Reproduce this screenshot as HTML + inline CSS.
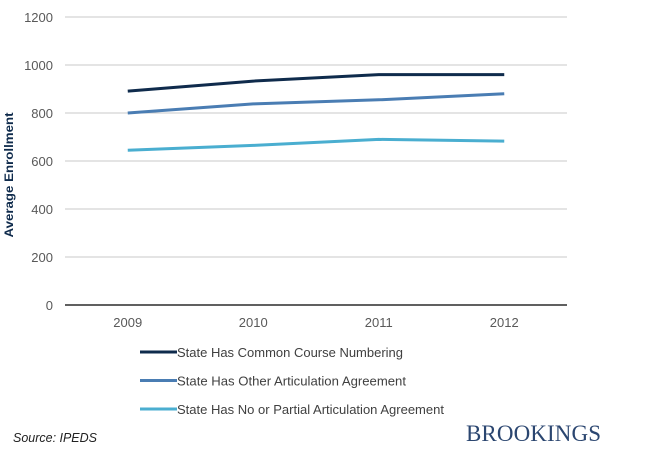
<!DOCTYPE html>
<html><head><meta charset="utf-8"><style>
body{margin:0;background:#fff;width:669px;height:448px;overflow:hidden;font-family:"Liberation Sans",Arial,sans-serif}
</style></head><body>
<svg id="chart" width="669" height="448" xmlns="http://www.w3.org/2000/svg" font-family="Liberation Sans, Arial, sans-serif">
<g id="grid"></g>
<g id="yt"></g>
<g id="xt"></g>
<g id="series"></g>
<text transform="translate(13,175) rotate(-90)" text-anchor="middle" font-size="12" font-weight="bold" fill="#0f2b4c" textLength="125" lengthAdjust="spacingAndGlyphs">Average Enrollment</text>
<g id="legend"></g>
<text x="13" y="442" font-size="13" font-style="italic" fill="#222" textLength="84" lengthAdjust="spacingAndGlyphs">Source: IPEDS</text>
<text x="466" y="441" font-size="23" font-family="Liberation Serif, serif" fill="#2b4670" textLength="135">BROOKINGS</text>
</svg>
<script>
const categories=["2009","2010","2011","2012"];
const yTicks=[0,200,400,600,800,1000,1200];
const seriesNames=["State Has Common Course Numbering","State Has Other Articulation Agreement","State Has No or Partial Articulation Agreement"];
const commonNumbering=[891,933,960,960];
const otherAgreement=[800,838,855,880];
const noPartialAgreement=[645,665,690,683];
const colors=["#0f2b4c","#4a7db3","#4aaed0"];
const legendWidths=[269,272,310];
const allSeries=[commonNumbering,otherAgreement,noPartialAgreement];
const NS="http://www.w3.org/2000/svg";
const x0=65,x1=567,yb=305,yt=17;
function y(v){return yb-(v/1200)*(yb-yt);}
function x(i){return x0+(x1-x0)*(i+0.5)/categories.length;}
function mk(t,a,p){const e=document.createElementNS(NS,t);for(const k in a)e.setAttribute(k,a[k]);p.appendChild(e);return e;}
const grid=document.getElementById('grid'),ytg=document.getElementById('yt'),xtg=document.getElementById('xt');
yTicks.forEach(v=>{
 const l=mk('line',{x1:x0,x2:x1,y1:y(v),y2:y(v),stroke:v===0?'#000':'#c8c8c8','stroke-width':v===0?1.2:1},grid);
 
 
 const t=mk('text',{x:53,y:y(v)+5,'text-anchor':'end','font-size':13,fill:'#595959'},ytg);t.textContent=v;
 
 
});
categories.forEach((c,i)=>{
 const t=mk('text',{x:x(i),y:327,'text-anchor':'middle','font-size':13,fill:'#595959'},xtg);t.textContent=c;
 
 
});
const sg=document.getElementById('series'),lg=document.getElementById('legend');
allSeries.forEach((s,k)=>{
 const p=mk('polyline',{points:s.map((v,i)=>x(i)+','+y(v)).join(' '),fill:'none',stroke:colors[k],'stroke-width':3},sg);
 
 
 const ly=352+k*28.5;
 const ll=mk('line',{x1:140,x2:177,y1:ly,y2:ly,stroke:colors[k],'stroke-width':3},lg);
 
 
 const lt=mk('text',{x:177,y:ly+5,'font-size':13,fill:'#404040',textLength:legendWidths[k]-43,lengthAdjust:'spacingAndGlyphs'},lg);lt.textContent=seriesNames[k];
 
 
});
</script>
</body></html>
